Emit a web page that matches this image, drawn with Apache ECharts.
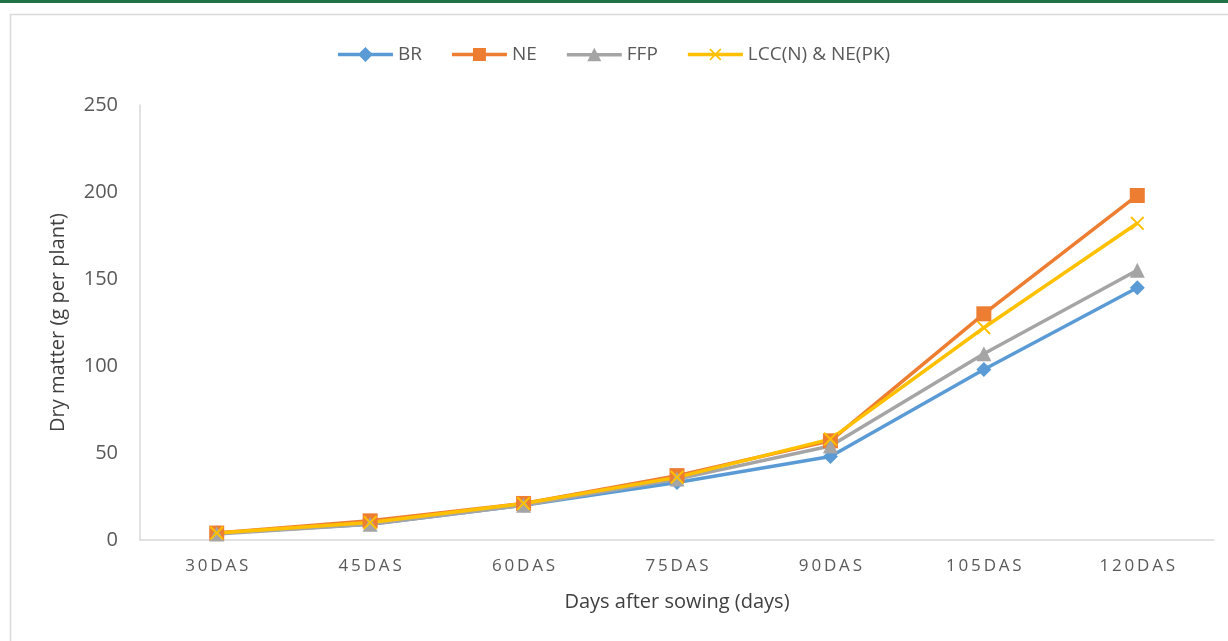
<!DOCTYPE html>
<html><head><meta charset="utf-8">
<script src="https://cdn.jsdelivr.net/npm/echarts@6/dist/echarts.min.js"></script>
<style>html,body{margin:0;padding:0;background:#fff}#c{width:1228px;height:641px}</style>
</head><body><div id="c"></div>
<script>
const categories = ['30DAS','45DAS','60DAS','75DAS','90DAS','105DAS','120DAS'];
const BR  = [4, 9, 20, 33, 48, 98, 145];
const NE  = [4, 11, 21, 37, 57, 130, 198];
const FFP = [3.5, 9, 20, 35, 54, 107, 155];
const LCC = [4, 10, 21, 36, 58, 122, 182];
const yTicks = [0, 50, 100, 150, 200, 250];

const xPath = 'path://M0,1 L1,0 L5,4 L9,0 L10,1 L6,5 L10,9 L9,10 L5,6 L1,10 L0,9 L4,5 Z';
// legend icons: line bar + marker, in a 55x15 box
const bar = 'M0,5.75 L55,5.75 L55,9.25 L0,9.25 Z ';
const iconBR  = 'path://' + bar + 'M27.5,0 L35,7.5 L27.5,15 L20,7.5 Z';
const iconNE  = 'path://' + bar + 'M21,1 L34,1 L34,14 L21,14 Z';
const iconFFP = 'path://' + bar + 'M27.5,0.5 L34.5,14 L20.5,14 Z';
const iconLCC = 'path://' + bar + 'M21.5,2.7 L22.7,1.5 L27.5,6.3 L32.3,1.5 L33.5,2.7 L28.7,7.5 L33.5,12.3 L32.3,13.5 L27.5,8.7 L22.7,13.5 L21.5,12.3 L26.3,7.5 Z';
const font = 'Open Sans';
function ser(name, data, color, symbol, size){
  return {name, type:'line', data, symbol, symbolSize:size, showSymbol:true,
    lineStyle:{color, width:3.5}, itemStyle:{color}, z: 2};
}
const chart = echarts.init(document.getElementById('c'), null, {renderer:'canvas'});
chart.setOption({
  animation:false,
  textStyle:{fontFamily:font},
  graphic:[
    {type:'rect', shape:{x:0,y:0,width:1228,height:3}, style:{fill:'#217346'}, silent:true},
    {type:'rect', shape:{x:10.5,y:14.5,width:1240,height:700}, style:{fill:'none', stroke:'#d9d9d9', lineWidth:1.5}, silent:true}
  ],
  legend:{top:40, left:'center', itemWidth:55, itemHeight:15, itemGap:30,
    itemStyle:{borderWidth:0},
    textStyle:{fontSize:19, color:'#595959', fontFamily:font},
    data:[{name:'BR', icon:iconBR},{name:'NE', icon:iconNE},{name:'FFP', icon:iconFFP},{name:'LCC(N) & NE(PK)', icon:iconLCC}]},
  grid:{left:140, right:14, top:105, bottom:101},
  xAxis:{type:'category', data:categories, boundaryGap:true,
    axisLine:{lineStyle:{color:'#d9d9d9', width:1.5}}, axisTick:{show:false},
    axisLabel:{color:'#595959', fontSize:17, margin:18,
      formatter:v=>v.split('').join('\u2009')},
    name:'Days after sowing (days)', nameLocation:'middle', nameGap:52,
    nameTextStyle:{color:'#404040', fontSize:20}},
  yAxis:{type:'value', min:0, max:250, interval:50,
    axisLine:{show:true, lineStyle:{color:'#d9d9d9', width:1.5}}, axisTick:{show:false},
    splitLine:{show:false},
    axisLabel:{color:'#595959', fontSize:20, margin:22,
      formatter:v=>yTicks.includes(v)?String(v):''},
    name:'Dry matter (g per plant)', nameLocation:'middle', nameGap:72, nameRotate:90,
    nameTextStyle:{color:'#404040', fontSize:20}},
  series:[
    ser('BR', BR, '#5b9bd5', 'diamond', 15),
    ser('NE', NE, '#ed7d31', 'rect', 15),
    ser('FFP', FFP, '#a5a5a5', 'triangle', 15),
    ser('LCC(N) & NE(PK)', LCC, '#ffc000', xPath, 14)
  ]
});
</script></body></html>
